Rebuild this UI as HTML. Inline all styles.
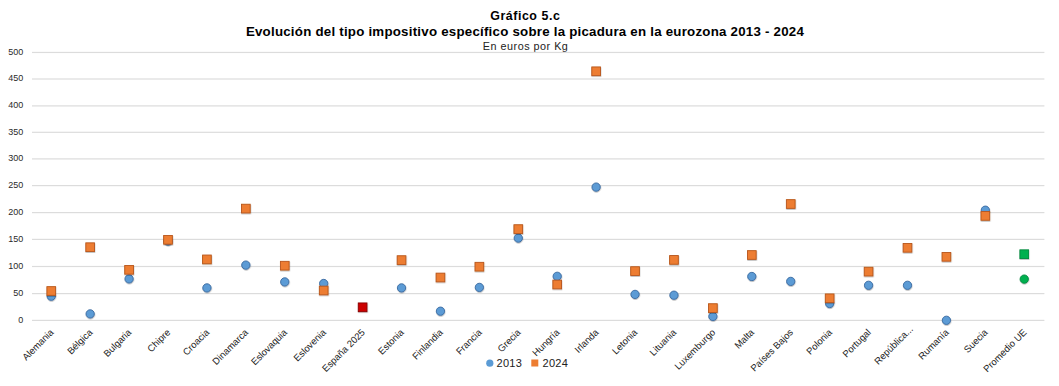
<!DOCTYPE html>
<html><head><meta charset="utf-8"><style>
html,body{margin:0;padding:0;background:#fff;}
body{width:1059px;height:386px;overflow:hidden;position:relative;font-family:"Liberation Sans",sans-serif;}
.t{position:absolute;left:0;width:1059px;text-align:center;color:#000;white-space:nowrap;line-height:1;}
svg{position:absolute;left:0;top:0;}
.yl{font-size:9px;fill:#2a2a2a;}
.xl{font-size:9.5px;fill:#222;}
.lg{font-size:11px;fill:#222;letter-spacing:0.3px}
</style></head><body>
<svg width="1059" height="386" viewBox="0 0 1059 386">
<defs><filter id="sh" x="-50%" y="-50%" width="200%" height="200%"><feDropShadow dx="0.3" dy="0.8" stdDeviation="0.6" flood-color="#000" flood-opacity="0.3"/></filter></defs>
<text x="525.3" y="19.5" text-anchor="middle" style="font-size:12.4px;font-weight:bold;letter-spacing:0.55px" fill="#000">Gráfico 5.c</text>
<text x="525" y="35.8" text-anchor="middle" style="font-size:13.3px;font-weight:bold;letter-spacing:0.23px" fill="#000">Evolución del tipo impositivo específico sobre la picadura en la eurozona 2013 - 2024</text>
<text x="525.6" y="50.2" text-anchor="middle" style="font-size:10.8px;letter-spacing:0.5px" fill="#222">En euros por Kg</text>
<rect x="32.0" y="51.86" width="1012.4" height="1.2" fill="#dcdcdc"/>
<text x="23.3" y="54.66" text-anchor="end" class="yl">500</text>
<rect x="32.0" y="78.40" width="1012.4" height="1.2" fill="#dcdcdc"/>
<text x="23.3" y="81.20" text-anchor="end" class="yl">450</text>
<rect x="32.0" y="105.30" width="1012.4" height="1.2" fill="#dcdcdc"/>
<text x="23.3" y="108.10" text-anchor="end" class="yl">400</text>
<rect x="32.0" y="131.70" width="1012.4" height="1.2" fill="#dcdcdc"/>
<text x="23.3" y="134.50" text-anchor="end" class="yl">350</text>
<rect x="32.0" y="158.30" width="1012.4" height="1.2" fill="#dcdcdc"/>
<text x="23.3" y="161.10" text-anchor="end" class="yl">300</text>
<rect x="32.0" y="185.00" width="1012.4" height="1.2" fill="#dcdcdc"/>
<text x="23.3" y="187.80" text-anchor="end" class="yl">250</text>
<rect x="32.0" y="212.00" width="1012.4" height="1.2" fill="#dcdcdc"/>
<text x="23.3" y="214.80" text-anchor="end" class="yl">200</text>
<rect x="32.0" y="238.80" width="1012.4" height="1.2" fill="#dcdcdc"/>
<text x="23.3" y="241.60" text-anchor="end" class="yl">150</text>
<rect x="32.0" y="265.90" width="1012.4" height="1.2" fill="#dcdcdc"/>
<text x="23.3" y="268.70" text-anchor="end" class="yl">100</text>
<rect x="32.0" y="293.00" width="1012.4" height="1.2" fill="#dcdcdc"/>
<text x="23.3" y="295.80" text-anchor="end" class="yl">50</text>
<rect x="32.0" y="319.80" width="1012.4" height="1.2" fill="#dcdcdc"/>
<text x="23.3" y="322.60" text-anchor="end" class="yl">0</text>
<text transform="translate(54.25,332.90) rotate(-45)" text-anchor="end" class="xl">Alemania</text>
<text transform="translate(93.17,332.90) rotate(-45)" text-anchor="end" class="xl">Bélgica</text>
<text transform="translate(132.09,332.90) rotate(-45)" text-anchor="end" class="xl">Bulgaria</text>
<text transform="translate(171.01,332.90) rotate(-45)" text-anchor="end" class="xl">Chipre</text>
<text transform="translate(209.93,332.90) rotate(-45)" text-anchor="end" class="xl">Croacia</text>
<text transform="translate(248.85,332.90) rotate(-45)" text-anchor="end" class="xl">Dinamarca</text>
<text transform="translate(287.77,332.90) rotate(-45)" text-anchor="end" class="xl">Eslovaquia</text>
<text transform="translate(326.69,332.90) rotate(-45)" text-anchor="end" class="xl">Eslovenia</text>
<text transform="translate(365.61,332.90) rotate(-45)" text-anchor="end" class="xl">España 2025</text>
<text transform="translate(404.53,332.90) rotate(-45)" text-anchor="end" class="xl">Estonia</text>
<text transform="translate(443.45,332.90) rotate(-45)" text-anchor="end" class="xl">Finlandia</text>
<text transform="translate(482.37,332.90) rotate(-45)" text-anchor="end" class="xl">Francia</text>
<text transform="translate(521.29,332.90) rotate(-45)" text-anchor="end" class="xl">Grecia</text>
<text transform="translate(560.21,332.90) rotate(-45)" text-anchor="end" class="xl">Hungría</text>
<text transform="translate(599.13,332.90) rotate(-45)" text-anchor="end" class="xl">Irlanda</text>
<text transform="translate(638.05,332.90) rotate(-45)" text-anchor="end" class="xl">Letonia</text>
<text transform="translate(676.97,332.90) rotate(-45)" text-anchor="end" class="xl">Lituania</text>
<text transform="translate(715.89,332.90) rotate(-45)" text-anchor="end" class="xl">Luxemburgo</text>
<text transform="translate(754.81,332.90) rotate(-45)" text-anchor="end" class="xl">Malta</text>
<text transform="translate(793.73,332.90) rotate(-45)" text-anchor="end" class="xl">Países Bajos</text>
<text transform="translate(832.65,332.90) rotate(-45)" text-anchor="end" class="xl">Polonia</text>
<text transform="translate(871.57,332.90) rotate(-45)" text-anchor="end" class="xl">Portugal</text>
<text transform="translate(913.69,329.70) rotate(-45)" text-anchor="end" class="xl">República...</text>
<text transform="translate(949.41,332.90) rotate(-45)" text-anchor="end" class="xl">Rumanía</text>
<text transform="translate(988.33,332.90) rotate(-45)" text-anchor="end" class="xl">Suecia</text>
<text transform="translate(1027.25,332.90) rotate(-45)" text-anchor="end" class="xl">Promedio UE</text>
<circle cx="51.25" cy="296.20" r="4.15" fill="#5b9bd5" stroke="#3a6aa0" stroke-width="0.9" filter="url(#sh)"/>
<circle cx="90.17" cy="313.90" r="4.15" fill="#5b9bd5" stroke="#3a6aa0" stroke-width="0.9" filter="url(#sh)"/>
<circle cx="129.09" cy="278.90" r="4.15" fill="#5b9bd5" stroke="#3a6aa0" stroke-width="0.9" filter="url(#sh)"/>
<circle cx="168.01" cy="241.00" r="4.15" fill="#5b9bd5" stroke="#3a6aa0" stroke-width="0.9" filter="url(#sh)"/>
<circle cx="206.93" cy="287.90" r="4.15" fill="#5b9bd5" stroke="#3a6aa0" stroke-width="0.9" filter="url(#sh)"/>
<circle cx="245.85" cy="265.10" r="4.15" fill="#5b9bd5" stroke="#3a6aa0" stroke-width="0.9" filter="url(#sh)"/>
<circle cx="284.77" cy="281.90" r="4.15" fill="#5b9bd5" stroke="#3a6aa0" stroke-width="0.9" filter="url(#sh)"/>
<circle cx="323.69" cy="283.50" r="4.15" fill="#5b9bd5" stroke="#3a6aa0" stroke-width="0.9" filter="url(#sh)"/>
<circle cx="401.53" cy="287.90" r="4.15" fill="#5b9bd5" stroke="#3a6aa0" stroke-width="0.9" filter="url(#sh)"/>
<circle cx="440.45" cy="311.20" r="4.15" fill="#5b9bd5" stroke="#3a6aa0" stroke-width="0.9" filter="url(#sh)"/>
<circle cx="479.37" cy="287.40" r="4.15" fill="#5b9bd5" stroke="#3a6aa0" stroke-width="0.9" filter="url(#sh)"/>
<circle cx="518.29" cy="238.10" r="4.15" fill="#5b9bd5" stroke="#3a6aa0" stroke-width="0.9" filter="url(#sh)"/>
<circle cx="557.21" cy="276.30" r="4.15" fill="#5b9bd5" stroke="#3a6aa0" stroke-width="0.9" filter="url(#sh)"/>
<circle cx="596.13" cy="187.10" r="4.15" fill="#5b9bd5" stroke="#3a6aa0" stroke-width="0.9" filter="url(#sh)"/>
<circle cx="635.05" cy="294.40" r="4.15" fill="#5b9bd5" stroke="#3a6aa0" stroke-width="0.9" filter="url(#sh)"/>
<circle cx="673.97" cy="295.20" r="4.15" fill="#5b9bd5" stroke="#3a6aa0" stroke-width="0.9" filter="url(#sh)"/>
<circle cx="712.89" cy="316.40" r="4.15" fill="#5b9bd5" stroke="#3a6aa0" stroke-width="0.9" filter="url(#sh)"/>
<circle cx="751.81" cy="276.50" r="4.15" fill="#5b9bd5" stroke="#3a6aa0" stroke-width="0.9" filter="url(#sh)"/>
<circle cx="790.73" cy="281.40" r="4.15" fill="#5b9bd5" stroke="#3a6aa0" stroke-width="0.9" filter="url(#sh)"/>
<circle cx="829.65" cy="303.50" r="4.15" fill="#5b9bd5" stroke="#3a6aa0" stroke-width="0.9" filter="url(#sh)"/>
<circle cx="868.57" cy="285.30" r="4.15" fill="#5b9bd5" stroke="#3a6aa0" stroke-width="0.9" filter="url(#sh)"/>
<circle cx="907.49" cy="285.30" r="4.15" fill="#5b9bd5" stroke="#3a6aa0" stroke-width="0.9" filter="url(#sh)"/>
<circle cx="946.41" cy="320.30" r="4.15" fill="#5b9bd5" stroke="#3a6aa0" stroke-width="0.9" filter="url(#sh)"/>
<circle cx="985.33" cy="210.20" r="4.15" fill="#5b9bd5" stroke="#3a6aa0" stroke-width="0.9" filter="url(#sh)"/>
<rect x="46.90" y="286.65" width="8.7" height="8.7" fill="#ed7d31" stroke="#b8561a" stroke-width="0.9" filter="url(#sh)"/>
<rect x="85.82" y="242.85" width="8.7" height="8.7" fill="#ed7d31" stroke="#b8561a" stroke-width="0.9" filter="url(#sh)"/>
<rect x="124.74" y="265.45" width="8.7" height="8.7" fill="#ed7d31" stroke="#b8561a" stroke-width="0.9" filter="url(#sh)"/>
<rect x="163.66" y="235.45" width="8.7" height="8.7" fill="#ed7d31" stroke="#b8561a" stroke-width="0.9" filter="url(#sh)"/>
<rect x="202.58" y="255.05" width="8.7" height="8.7" fill="#ed7d31" stroke="#b8561a" stroke-width="0.9" filter="url(#sh)"/>
<rect x="241.50" y="204.25" width="8.7" height="8.7" fill="#ed7d31" stroke="#b8561a" stroke-width="0.9" filter="url(#sh)"/>
<rect x="280.42" y="261.35" width="8.7" height="8.7" fill="#ed7d31" stroke="#b8561a" stroke-width="0.9" filter="url(#sh)"/>
<rect x="319.34" y="286.15" width="8.7" height="8.7" fill="#ed7d31" stroke="#b8561a" stroke-width="0.9" filter="url(#sh)"/>
<rect x="397.18" y="255.75" width="8.7" height="8.7" fill="#ed7d31" stroke="#b8561a" stroke-width="0.9" filter="url(#sh)"/>
<rect x="436.10" y="273.15" width="8.7" height="8.7" fill="#ed7d31" stroke="#b8561a" stroke-width="0.9" filter="url(#sh)"/>
<rect x="475.02" y="262.35" width="8.7" height="8.7" fill="#ed7d31" stroke="#b8561a" stroke-width="0.9" filter="url(#sh)"/>
<rect x="513.94" y="224.75" width="8.7" height="8.7" fill="#ed7d31" stroke="#b8561a" stroke-width="0.9" filter="url(#sh)"/>
<rect x="552.86" y="280.15" width="8.7" height="8.7" fill="#ed7d31" stroke="#b8561a" stroke-width="0.9" filter="url(#sh)"/>
<rect x="591.78" y="66.95" width="8.7" height="8.7" fill="#ed7d31" stroke="#b8561a" stroke-width="0.9" filter="url(#sh)"/>
<rect x="630.70" y="266.75" width="8.7" height="8.7" fill="#ed7d31" stroke="#b8561a" stroke-width="0.9" filter="url(#sh)"/>
<rect x="669.62" y="255.55" width="8.7" height="8.7" fill="#ed7d31" stroke="#b8561a" stroke-width="0.9" filter="url(#sh)"/>
<rect x="708.54" y="303.75" width="8.7" height="8.7" fill="#ed7d31" stroke="#b8561a" stroke-width="0.9" filter="url(#sh)"/>
<rect x="747.46" y="250.65" width="8.7" height="8.7" fill="#ed7d31" stroke="#b8561a" stroke-width="0.9" filter="url(#sh)"/>
<rect x="786.38" y="199.65" width="8.7" height="8.7" fill="#ed7d31" stroke="#b8561a" stroke-width="0.9" filter="url(#sh)"/>
<rect x="825.30" y="293.95" width="8.7" height="8.7" fill="#ed7d31" stroke="#b8561a" stroke-width="0.9" filter="url(#sh)"/>
<rect x="864.22" y="267.25" width="8.7" height="8.7" fill="#ed7d31" stroke="#b8561a" stroke-width="0.9" filter="url(#sh)"/>
<rect x="903.14" y="243.45" width="8.7" height="8.7" fill="#ed7d31" stroke="#b8561a" stroke-width="0.9" filter="url(#sh)"/>
<rect x="942.06" y="252.45" width="8.7" height="8.7" fill="#ed7d31" stroke="#b8561a" stroke-width="0.9" filter="url(#sh)"/>
<rect x="980.98" y="211.55" width="8.7" height="8.7" fill="#ed7d31" stroke="#b8561a" stroke-width="0.9" filter="url(#sh)"/>
<rect x="358.26" y="302.95" width="8.7" height="8.7" fill="#cc0000" stroke="#8a0000" stroke-width="0.9" filter="url(#sh)"/>
<circle cx="1024.25" cy="279.10" r="4.15" fill="#00b050" stroke="#008a3e" stroke-width="0.9" filter="url(#sh)"/>
<rect x="1019.90" y="249.85" width="8.7" height="8.7" fill="#00b050" stroke="#008a3e" stroke-width="0.9" filter="url(#sh)"/>
<circle cx="489.8" cy="363.2" r="3.6" fill="#5b9bd5"/>
<text x="496.5" y="367" class="lg">2013</text>
<rect x="531.3" y="359.5" width="7" height="7" fill="#ed7d31"/>
<text x="542.5" y="367" class="lg">2024</text>
</svg>
</body></html>
